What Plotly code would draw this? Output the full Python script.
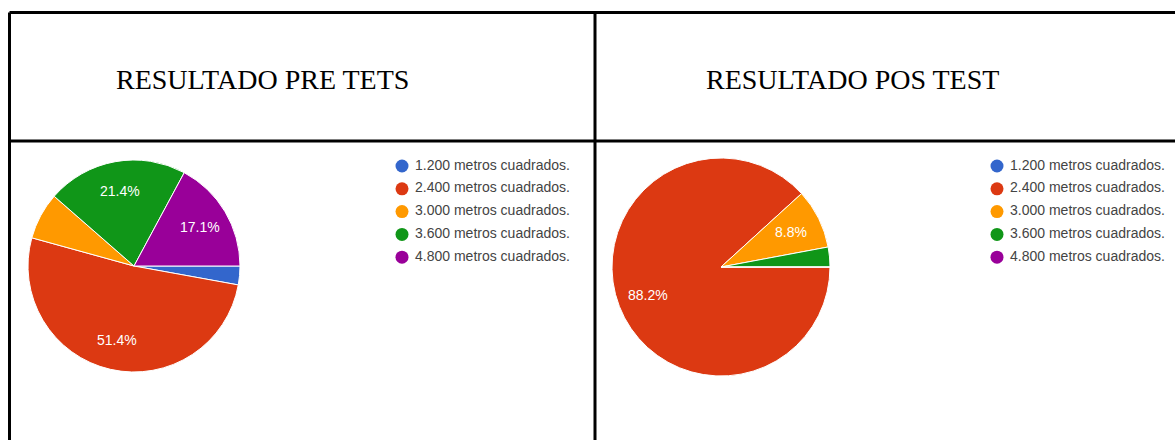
import numpy as np
import plotly.graph_objects as go

# Survey answers (plot area options) and respondent counts
categories = ["1.200 metros cuadrados.", "2.400 metros cuadrados.", "3.000 metros cuadrados.",
              "3.600 metros cuadrados.", "4.800 metros cuadrados."]
pre_counts = [2, 36, 5, 15, 12]
post_counts = [0, 30, 3, 1, 0]
# which slices carry a percentage label
pre_show = [False, True, False, True, True]
post_show = [False, True, True, False, False]
titles = ["RESULTADO PRE TETS", "RESULTADO POS TEST"]
colors = ["#3366CC", "#DC3912", "#FF9900", "#109618", "#990099"]

W, H = 1175, 440
BORDER = 3
LABEL_RADIUS = 0.72  # slice labels sit on the bisector at this fraction of the radius

fig = go.Figure()


def pie_domain(cx, cy, r):
    return dict(x=[(cx - r) / W, (cx + r) / W], y=[1 - (cy + r) / H, 1 - (cy - r) / H])


for vals, show, (cx, cy, r) in [(pre_counts, pre_show, (134, 266, 106)),
                                (post_counts, post_show, (721, 267, 109))]:
    fig.add_trace(go.Pie(
        labels=categories, values=vals, sort=False, direction="clockwise", rotation=90,
        marker=dict(colors=colors, line=dict(color="white", width=1)),
        textinfo="none",
        domain=pie_domain(cx, cy, r), showlegend=False, hoverinfo="label+percent",
    ))
    # percentage labels: start at 3 o'clock, run clockwise (screen y points down)
    v = np.asarray(vals, dtype=float)
    frac = v / v.sum()
    mid = (np.cumsum(frac) - frac / 2) * 2 * np.pi
    for f, a, s in zip(frac, mid, show):
        if not s:
            continue
        fig.add_annotation(
            x=cx + LABEL_RADIUS * r * np.cos(a), y=cy + LABEL_RADIUS * r * np.sin(a),
            xref="x", yref="y", text=f"{f * 100:.1f}%", showarrow=False,
            font=dict(family="Arial, Liberation Sans", size=14, color="white"),
        )

# circle-marker legends beside each pie
for lx in (402, 997):
    fig.add_trace(go.Scatter(
        x=[lx] * len(categories), y=[166 + 22.8 * i for i in range(len(categories))],
        mode="markers+text", text=[" " + c for c in categories], textposition="middle right",
        marker=dict(color=colors, size=13),
        textfont=dict(family="Arial, Liberation Sans", size=14, color="#444444"),
        showlegend=False, hoverinfo="skip", cliponaxis=False,
    ))

# table grid
lines = [
    (9.5, 12.5, W + 5, 12.5),
    (9.5, 12.5, 9.5, H + 5),
    (9.5, 141, W + 5, 141),
    (595, 12.5, 595, H + 5),
]
for x0, y0, x1, y1 in lines:
    fig.add_shape(type="line", xref="x", yref="y", x0=x0, y0=y0, x1=x1, y1=y1,
                  line=dict(color="black", width=BORDER))

for t, tx in zip(titles, (262, 852)):
    fig.add_annotation(x=tx, y=79, xref="x", yref="y", text=t, showarrow=False,
                       font=dict(family="Times New Roman, Liberation Serif", size=28, color="black"))

fig.update_layout(
    width=W, height=H, margin=dict(l=0, r=0, t=0, b=0),
    paper_bgcolor="white", plot_bgcolor="white",
    xaxis=dict(range=[0, W], visible=False, domain=[0, 1], fixedrange=True),
    yaxis=dict(range=[H, 0], visible=False, domain=[0, 1], fixedrange=True),
)

fig.write_html("out.html")
